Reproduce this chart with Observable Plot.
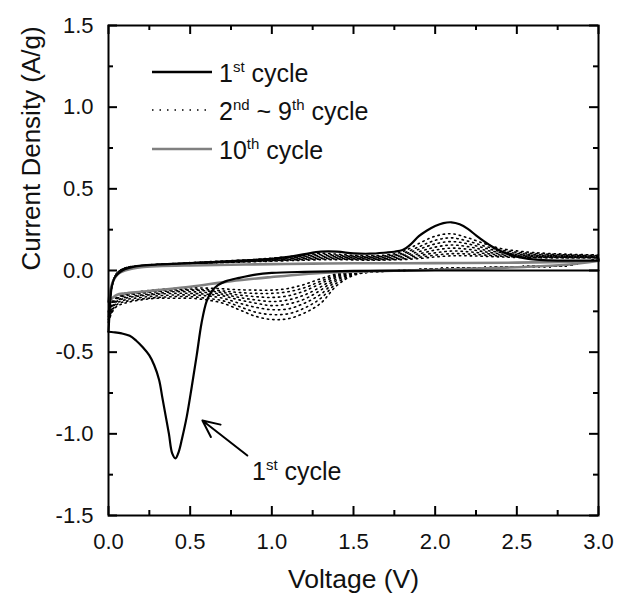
<!DOCTYPE html>
<html><head><meta charset="utf-8">
<script src="https://cdn.jsdelivr.net/npm/d3@7"></script>
<script src="https://cdn.jsdelivr.net/npm/@observablehq/plot@0.6"></script>
<style>
body{margin:0;background:#fff;}
#wrap{position:relative;width:627px;height:597px;font-family:"Liberation Sans",Arial,sans-serif;color:#111;}
.t{position:absolute;font-size:25px;line-height:25px;white-space:nowrap;}
.t sup{font-size:15px;line-height:0;vertical-align:10px;}
.s{position:absolute;}
</style></head><body><div id="wrap"></div>
<script>
// Axis ticks
const xTicks = [0, 0.5, 1, 1.5, 2, 2.5, 3];
const xMinor = [0.25, 0.75, 1.25, 1.75, 2.25, 2.75];
const yTicks = [-1.5, -1, -0.5, 0, 0.5, 1, 1.5];
const yMinor = [-1.25, -0.75, -0.25, 0.25, 0.75, 1.25];

// 1st cycle (black) - cathodic sweep 3.0 -> 0 V
const c1CathV = [3.0, 2.5, 2.0, 1.5, 1.2, 1.0, 0.9, 0.8, 0.72, 0.67, 0.63, 0.6, 0.57, 0.54, 0.51, 0.48, 0.45, 0.43, 0.41, 0.39, 0.37, 0.35, 0.33, 0.31, 0.28, 0.25, 0.21, 0.17, 0.13, 0.08, 0.03, 0.0];
const c1CathI = [0.0, 0.0, 0.0, -0.002, -0.008, -0.015, -0.025, -0.045, -0.065, -0.09, -0.13, -0.19, -0.32, -0.52, -0.71, -0.89, -1.03, -1.11, -1.15, -1.12, -1.0, -0.89, -0.78, -0.67, -0.58, -0.52, -0.47, -0.43, -0.4, -0.385, -0.378, -0.375];
// 1st cycle - anodic sweep 0 -> 3.0 V
const c1AnodV = [0.0, 0.004, 0.01, 0.02, 0.04, 0.07, 0.1, 0.15, 0.2, 0.3, 0.45, 0.6, 0.8, 1.0, 1.1, 1.2, 1.3, 1.4, 1.5, 1.6, 1.7, 1.75, 1.8, 1.85, 1.9, 1.95, 2.0, 2.05, 2.1, 2.15, 2.2, 2.25, 2.3, 2.35, 2.4, 2.5, 2.6, 2.7, 2.85, 3.0];
const c1AnodI = [-0.375, -0.3, -0.2, -0.1, -0.04, -0.01, 0.008, 0.022, 0.03, 0.037, 0.043, 0.05, 0.06, 0.072, 0.083, 0.1, 0.115, 0.115, 0.105, 0.103, 0.11, 0.115, 0.125, 0.16, 0.21, 0.245, 0.272, 0.29, 0.295, 0.283, 0.255, 0.215, 0.178, 0.145, 0.12, 0.085, 0.068, 0.062, 0.06, 0.06];

// 2nd ~ 9th cycles (dotted) - shared voltage grids
const midCathV = [3.0, 2.8, 2.6, 2.4, 2.2, 2.0, 1.8, 1.6, 1.5, 1.4, 1.3, 1.2, 1.1, 1.0, 0.9, 0.8, 0.7, 0.6, 0.5, 0.4, 0.3, 0.2, 0.1, 0.05, 0.02, 0.0];
const c2Cath = [0.07, 0.03, 0.025, 0.02, 0.015, 0.01, 0.0, -0.01, -0.03, -0.09, -0.2, -0.26, -0.295, -0.3, -0.28, -0.24, -0.2, -0.18, -0.17, -0.17, -0.17, -0.18, -0.2, -0.22, -0.26, -0.32];
const c3Cath = [0.07, 0.03, 0.025, 0.02, 0.015, 0.01, 0.0, -0.01, -0.025, -0.075, -0.17, -0.23, -0.265, -0.27, -0.255, -0.22, -0.185, -0.17, -0.16, -0.16, -0.165, -0.175, -0.19, -0.21, -0.25, -0.31];
const c4Cath = [0.07, 0.03, 0.025, 0.02, 0.015, 0.01, 0.0, -0.01, -0.02, -0.06, -0.145, -0.2, -0.235, -0.24, -0.225, -0.2, -0.17, -0.155, -0.15, -0.15, -0.155, -0.165, -0.18, -0.2, -0.24, -0.3];
const c5Cath = [0.07, 0.03, 0.025, 0.02, 0.015, 0.01, 0.0, -0.01, -0.018, -0.05, -0.12, -0.175, -0.205, -0.215, -0.2, -0.18, -0.155, -0.145, -0.14, -0.14, -0.145, -0.155, -0.17, -0.19, -0.23, -0.29];
const c6Cath = [0.07, 0.03, 0.025, 0.02, 0.015, 0.01, 0.0, -0.008, -0.015, -0.04, -0.1, -0.15, -0.18, -0.19, -0.18, -0.165, -0.145, -0.135, -0.13, -0.13, -0.14, -0.15, -0.165, -0.185, -0.22, -0.28];
const c7Cath = [0.07, 0.03, 0.025, 0.02, 0.015, 0.01, 0.0, -0.008, -0.013, -0.032, -0.08, -0.125, -0.155, -0.165, -0.16, -0.15, -0.135, -0.125, -0.12, -0.125, -0.13, -0.14, -0.155, -0.175, -0.21, -0.27];
const c8Cath = [0.07, 0.03, 0.025, 0.02, 0.015, 0.01, 0.0, -0.006, -0.011, -0.026, -0.065, -0.105, -0.13, -0.14, -0.14, -0.135, -0.125, -0.118, -0.115, -0.118, -0.125, -0.135, -0.15, -0.17, -0.2, -0.26];
const c9Cath = [0.07, 0.03, 0.025, 0.02, 0.015, 0.01, 0.0, -0.005, -0.01, -0.02, -0.05, -0.085, -0.11, -0.12, -0.12, -0.118, -0.112, -0.108, -0.106, -0.11, -0.118, -0.128, -0.145, -0.165, -0.195, -0.25];

const midAnodV = [0.0, 0.02, 0.05, 0.1, 0.2, 0.3, 0.5, 0.7, 0.9, 1.1, 1.2, 1.3, 1.4, 1.5, 1.6, 1.7, 1.8, 1.9, 2.0, 2.1, 2.2, 2.3, 2.4, 2.5, 2.6, 2.8, 3.0];
const c2Anod = [-0.32, -0.1, -0.02, 0.015, 0.03, 0.038, 0.048, 0.058, 0.068, 0.085, 0.095, 0.105, 0.1, 0.092, 0.09, 0.095, 0.115, 0.165, 0.21, 0.225, 0.2, 0.165, 0.135, 0.12, 0.11, 0.1, 0.095];
const c3Anod = [-0.31, -0.1, -0.02, 0.015, 0.03, 0.037, 0.047, 0.056, 0.066, 0.082, 0.09, 0.098, 0.094, 0.088, 0.086, 0.09, 0.105, 0.145, 0.185, 0.2, 0.18, 0.15, 0.125, 0.112, 0.104, 0.096, 0.092];
const c4Anod = [-0.3, -0.1, -0.02, 0.014, 0.029, 0.036, 0.046, 0.055, 0.064, 0.078, 0.086, 0.092, 0.089, 0.084, 0.082, 0.086, 0.098, 0.13, 0.163, 0.177, 0.163, 0.138, 0.117, 0.105, 0.098, 0.092, 0.088];
const c5Anod = [-0.29, -0.1, -0.02, 0.013, 0.028, 0.035, 0.045, 0.053, 0.062, 0.074, 0.081, 0.086, 0.084, 0.08, 0.078, 0.081, 0.091, 0.115, 0.143, 0.156, 0.146, 0.126, 0.11, 0.099, 0.093, 0.088, 0.085];
const c6Anod = [-0.28, -0.1, -0.02, 0.012, 0.027, 0.034, 0.044, 0.052, 0.06, 0.07, 0.076, 0.08, 0.079, 0.076, 0.074, 0.076, 0.084, 0.102, 0.125, 0.137, 0.13, 0.115, 0.102, 0.094, 0.089, 0.085, 0.082];
const c7Anod = [-0.27, -0.1, -0.02, 0.011, 0.026, 0.033, 0.043, 0.05, 0.058, 0.066, 0.071, 0.075, 0.074, 0.072, 0.07, 0.071, 0.077, 0.091, 0.108, 0.119, 0.115, 0.105, 0.095, 0.089, 0.085, 0.082, 0.08];
const c8Anod = [-0.26, -0.1, -0.02, 0.01, 0.025, 0.032, 0.042, 0.049, 0.056, 0.063, 0.067, 0.07, 0.07, 0.068, 0.066, 0.067, 0.071, 0.081, 0.094, 0.103, 0.101, 0.095, 0.088, 0.084, 0.081, 0.079, 0.078];
const c9Anod = [-0.25, -0.1, -0.02, 0.01, 0.024, 0.031, 0.041, 0.048, 0.054, 0.06, 0.063, 0.066, 0.066, 0.065, 0.063, 0.064, 0.067, 0.073, 0.083, 0.09, 0.09, 0.087, 0.083, 0.08, 0.078, 0.077, 0.076];

// 10th cycle (gray)
const c10CathV = [3.0, 2.8, 2.5, 2.2, 2.0, 1.8, 1.5, 1.3, 1.0, 0.75, 0.5, 0.3, 0.2, 0.1, 0.05, 0.0];
const c10CathI = [0.06, 0.035, 0.02, 0.01, 0.005, 0.0, -0.008, -0.015, -0.04, -0.065, -0.1, -0.12, -0.13, -0.14, -0.15, -0.19];
const c10AnodV = [0.0, 0.01, 0.03, 0.06, 0.1, 0.15, 0.2, 0.3, 0.5, 0.75, 1.0, 1.25, 1.5, 2.0, 2.5, 2.8, 3.0];
const c10AnodI = [-0.19, -0.13, -0.06, -0.02, 0.0, 0.012, 0.02, 0.026, 0.031, 0.035, 0.039, 0.042, 0.044, 0.045, 0.048, 0.053, 0.06];

// Annotation arrow (data units)
const arrowAnno = [{x1: 0.85, y1: -1.133, x2: 0.575, y2: -0.918}];

function rows(key, V, I) { return V.map((v, i) => ({key, V: v, I: I[i]})); }

const blackRows = [...rows("c1c", c1CathV, c1CathI), ...rows("c1a", c1AnodV, c1AnodI)];
const grayRows = [...rows("c10c", c10CathV, c10CathI), ...rows("c10a", c10AnodV, c10AnodI)];
const midCath = [c2Cath, c3Cath, c4Cath, c5Cath, c6Cath, c7Cath, c8Cath, c9Cath];
const midAnod = [c2Anod, c3Anod, c4Anod, c5Anod, c6Anod, c7Anod, c8Anod, c9Anod];
const dotRows = [];
midCath.forEach((arr, k) => dotRows.push(...rows("m" + k + "c", midCathV, arr)));
midAnod.forEach((arr, k) => dotRows.push(...rows("m" + k + "a", midAnodV, arr)));

const W = 627, H = 597, mL = 108, mR = 29, mT = 25, mB = 82;
const fw = W - mL - mR, fh = H - mT - mB;
const major = 9, minor = 5;
const fmt = d => d.toFixed(1);
const tk = {stroke: "#000", strokeWidth: 2};

const chart = Plot.plot({
  width: W, height: H,
  marginLeft: mL, marginRight: mR, marginTop: mT, marginBottom: mB,
  x: {domain: [0, 3], label: null},
  y: {domain: [-1.5, 1.5], label: null},
  style: {fontFamily: '"Liberation Sans", Arial, sans-serif', fontSize: "22px", color: "#111", background: "#fff", overflow: "visible"},
  marks: [
    Plot.line(dotRows, {x: "V", y: "I", z: "key", stroke: "#000", strokeWidth: 1.6, strokeDasharray: "1.4,4", curve: "catmull-rom"}),
    Plot.line(grayRows, {x: "V", y: "I", z: "key", stroke: "#808080", strokeWidth: 2.6, curve: "catmull-rom"}),
    Plot.line(blackRows, {x: "V", y: "I", z: "key", stroke: "#000", strokeWidth: 2.2, curve: "catmull-rom"}),
    Plot.arrow(arrowAnno, {x1: "x1", y1: "y1", x2: "x2", y2: "y2", stroke: "#000", strokeWidth: 2, headLength: 14, headAngle: 50}),
    Plot.frame({stroke: "#000", strokeWidth: 2}),
    // inward major ticks on all four sides
    Plot.tickX(xTicks, {x: d => d, insetTop: fh - major, ...tk}),
    Plot.tickX(xTicks, {x: d => d, insetBottom: fh - major, ...tk}),
    Plot.tickY(yTicks, {y: d => d, insetRight: fw - major, ...tk}),
    Plot.tickY(yTicks, {y: d => d, insetLeft: fw - major, ...tk}),
    // inward minor ticks
    Plot.tickX(xMinor, {x: d => d, insetTop: fh - minor, ...tk}),
    Plot.tickX(xMinor, {x: d => d, insetBottom: fh - minor, ...tk}),
    Plot.tickY(yMinor, {y: d => d, insetRight: fw - minor, ...tk}),
    Plot.tickY(yMinor, {y: d => d, insetLeft: fw - minor, ...tk}),
    // tick labels
    Plot.axisX(xTicks, {anchor: "bottom", tickSize: 0, tickPadding: 18, tickFormat: fmt, label: null, fill: "#111"}),
    Plot.axisY(yTicks, {anchor: "left", tickSize: 0, tickPadding: 15, tickFormat: fmt, label: null, fill: "#111"}),
    // axis titles
    Plot.text(["Voltage (V)"], {text: d => d, frameAnchor: "bottom", dy: 64, fontSize: 26.5, lineAnchor: "middle", fill: "#111"}),
    Plot.text(["Current Density (A/g)"], {text: d => d, frameAnchor: "left", dx: -77, rotate: -90, fontSize: 26, lineAnchor: "middle", fill: "#111"})
  ]
});
const wrap = document.getElementById("wrap");
wrap.appendChild(chart);

// Legend and annotation text (HTML overlay)
const legendItems = [
  {label: "1<sup>st</sup> cycle", stroke: "#000", dash: null, y: 72},
  {label: "2<sup>nd</sup> ~ 9<sup>th</sup> cycle", stroke: "#000", dash: "1.5,6", y: 110},
  {label: "10<sup>th</sup> cycle", stroke: "#808080", dash: null, y: 149}
];
legendItems.forEach(it => {
  const svg = document.createElementNS("http://www.w3.org/2000/svg", "svg");
  svg.setAttribute("class", "s");
  svg.setAttribute("width", 62); svg.setAttribute("height", 10);
  svg.style.left = "151px"; svg.style.top = (it.y - 5) + "px";
  const ln = document.createElementNS("http://www.w3.org/2000/svg", "line");
  ln.setAttribute("x1", 1); ln.setAttribute("x2", 61); ln.setAttribute("y1", 5); ln.setAttribute("y2", 5);
  ln.setAttribute("stroke", it.stroke); ln.setAttribute("stroke-width", it.dash ? 1.6 : 2.4);
  if (it.dash) ln.setAttribute("stroke-dasharray", it.dash);
  svg.appendChild(ln);
  wrap.appendChild(svg);
  const t = document.createElement("div");
  t.className = "t"; t.innerHTML = it.label;
  t.style.left = "219px"; t.style.top = (it.y - 11) + "px";
  wrap.appendChild(t);
});
const anno = document.createElement("div");
anno.className = "t"; anno.innerHTML = "1<sup>st</sup> cycle";
anno.style.left = "252px"; anno.style.top = "459px";
wrap.appendChild(anno);
</script>
</body></html>
